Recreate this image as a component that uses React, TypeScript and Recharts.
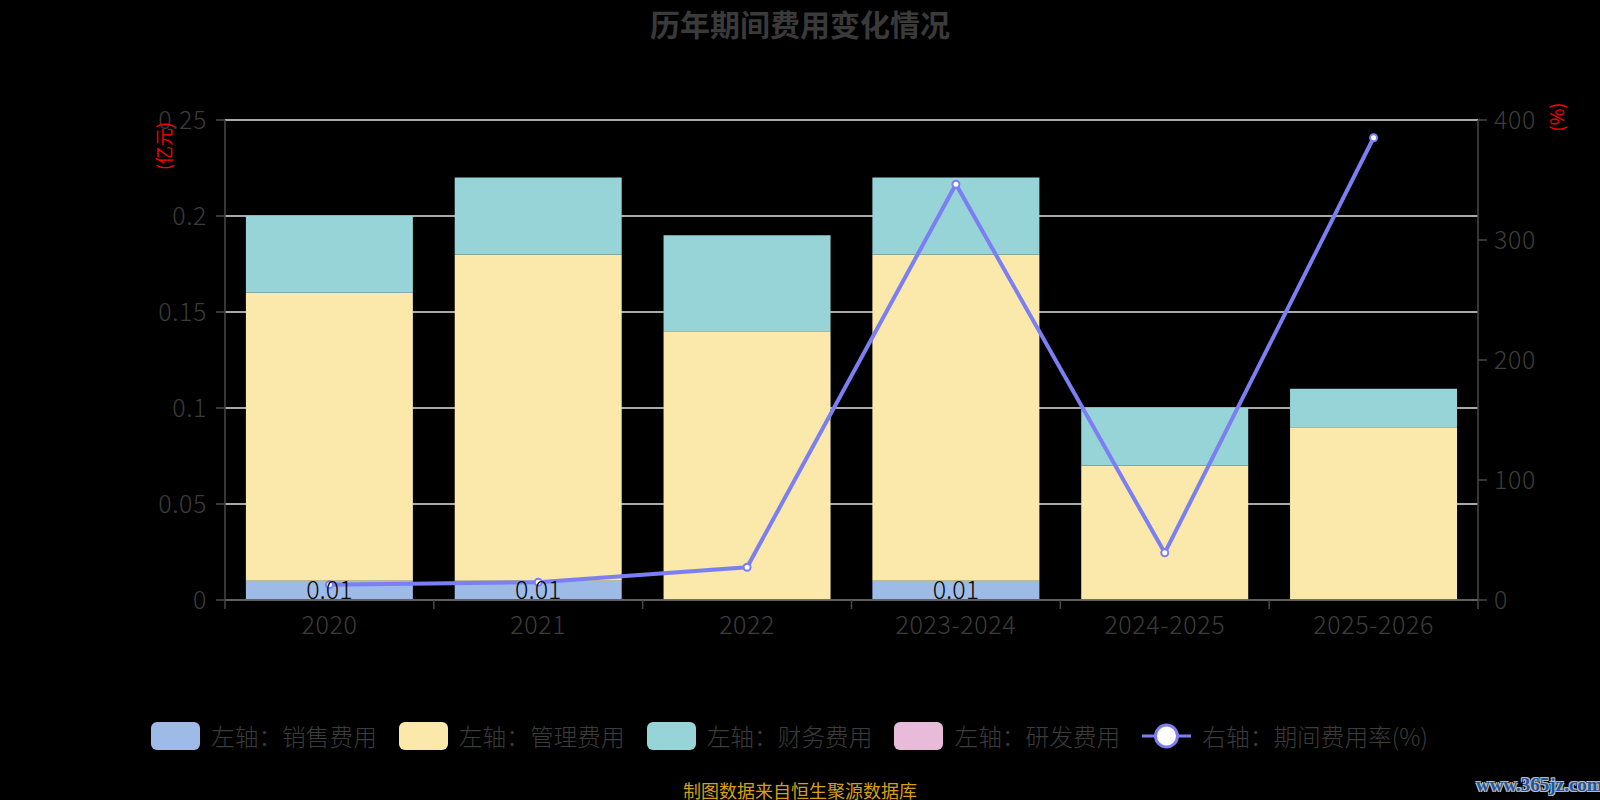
import React from 'react';
import { ComposedChart, Bar, Line, XAxis, YAxis, CartesianGrid, LabelList } from 'recharts';

const categories = ['2020', '2021', '2022', '2023-2024', '2024-2025', '2025-2026'];
const salesExpense = [0.01, 0.01, 0, 0.01, 0, 0];
const adminExpense = [0.15, 0.17, 0.14, 0.17, 0.07, 0.09];
const financeExpense = [0.04, 0.04, 0.05, 0.04, 0.03, 0.02];
const rdExpense = [0, 0, 0, 0, 0, 0];
const expenseRate = [12.7, 14.8, 27.3, 346.5, 39.3, 385.2];
const leftTicks = [0, 0.05, 0.1, 0.15, 0.2, 0.25];
const rightTicks = [0, 100, 200, 300, 400];

const seriesNames = ['左轴：销售费用', '左轴：管理费用', '左轴：财务费用', '左轴：研发费用', '右轴：期间费用率(%)'];
const seriesColors = ['#9dbbe6', '#fae9aa', '#97d4d7', '#e8bbdb', '#7b7ff3'];

const titleText = '历年期间费用变化情况';
const footerText = '制图数据来自恒生聚源数据库';
const watermarkText = 'www.365jz.com';
const leftUnit = '(亿元)';
const rightUnit = '(%)';

const data = categories.map((c, i) => ({
  name: c,
  sales: salesExpense[i],
  admin: adminExpense[i],
  finance: financeExpense[i],
  rd: rdExpense[i],
  rate: expenseRate[i],
}));

const W = 1600;
const H = 800;
const MARGIN = { top: 120, right: 62, bottom: 160, left: 165 };
const Y_W = 60;
const X_H = 40;
const PLOT_W = W - MARGIN.left - MARGIN.right - 2 * Y_W;
const HALF_BAND = PLOT_W / categories.length / 2;
const TICK_SIZE = 9;
const X_TICK_MARGIN = 6;
const AXIS = '#484848';
const TEXT = '#3c3c3c';
const FONT = '"Noto Sans CJK SC", "Noto Sans", sans-serif';
const TICK_FONT_SIZE = 25;
const TICK_SPACING = '0.6px';

const XTick = (props: any) => {
  const { x, y, payload, index } = props;
  const axisY = y - TICK_SIZE - X_TICK_MARGIN;
  return (
    <g>
      <line x1={x - HALF_BAND} x2={x - HALF_BAND} y1={axisY} y2={axisY + TICK_SIZE} stroke={AXIS} strokeWidth={1.5} />
      {index === categories.length - 1 && (
        <line x1={x + HALF_BAND} x2={x + HALF_BAND} y1={axisY} y2={axisY + TICK_SIZE} stroke={AXIS} strokeWidth={1.5} />
      )}
      <text
        x={x}
        y={y}
        dy="0.76em"
        textAnchor="middle"
        fill={TEXT}
        fontSize={TICK_FONT_SIZE}
        fontWeight={300}
        fontFamily={FONT}
        style={{ letterSpacing: TICK_SPACING }}
      >
        {payload.value}
      </text>
    </g>
  );
};

const LegendRow = () => (
  <div
    style={{
      position: 'absolute',
      left: 151,
      top: 722,
      height: 28,
      display: 'flex',
      alignItems: 'center',
      fontFamily: FONT,
      fontSize: 23.7,
      fontWeight: 300,
      color: TEXT,
      whiteSpace: 'nowrap',
    }}
  >
    {seriesNames.map((n, i) => (
      <div key={n} style={{ display: 'flex', alignItems: 'center', marginRight: 22 }}>
        {i < 4 ? (
          <div style={{ width: 49, height: 28, borderRadius: 6, background: seriesColors[i] }} />
        ) : (
          <svg width={49} height={28}>
            <line x1={0} x2={49} y1={14} y2={14} stroke={seriesColors[i]} strokeWidth={3} />
            <circle cx={24.5} cy={14} r={11} fill="#fff" stroke={seriesColors[i]} strokeWidth={3} />
          </svg>
        )}
        <span style={{ marginLeft: 11, lineHeight: '28px' }}>{n}</span>
      </div>
    ))}
  </div>
);

export default function App() {
  return (
    <div style={{ position: 'absolute', left: 0, top: 0, width: W, height: H, background: '#000', fontFamily: FONT }}>
      <div
        style={{
          position: 'absolute',
          left: 0,
          top: 0,
          width: W,
          height: 46,
          lineHeight: '46px',
          textAlign: 'center',
          fontSize: 30,
          fontWeight: 'bold',
          color: '#3a3a3a',
        }}
      >
        {titleText}
      </div>
      <ComposedChart width={W} height={H} data={data} margin={MARGIN} barCategoryGap="10%">
        <CartesianGrid yAxisId="left" vertical={false} stroke="#e2e2e2" strokeWidth={1.5} />
        <XAxis
          dataKey="name"
          height={X_H}
          axisLine={{ stroke: AXIS, strokeWidth: 1.5 }}
          tickLine={{ stroke: 'transparent' }}
          tickSize={TICK_SIZE}
          tickMargin={X_TICK_MARGIN}
          tick={<XTick />}
          interval={0}
        />
        <YAxis
          yAxisId="left"
          orientation="left"
          width={Y_W}
          domain={[0, 0.25]}
          ticks={leftTicks}
          axisLine={{ stroke: AXIS, strokeWidth: 1.5 }}
          tickLine={{ stroke: AXIS, strokeWidth: 1.5 }}
          tickSize={TICK_SIZE}
          tickMargin={9}
          tick={{ fill: TEXT, fontSize: TICK_FONT_SIZE, fontWeight: 300, fontFamily: FONT, style: { letterSpacing: TICK_SPACING } }}
        />
        <YAxis
          yAxisId="right"
          orientation="right"
          width={Y_W}
          domain={[0, 400]}
          ticks={rightTicks}
          axisLine={{ stroke: AXIS, strokeWidth: 1.5 }}
          tickLine={{ stroke: AXIS, strokeWidth: 1.5 }}
          tickSize={TICK_SIZE}
          tickMargin={7}
          tick={{ fill: TEXT, fontSize: TICK_FONT_SIZE, fontWeight: 300, fontFamily: FONT, style: { letterSpacing: TICK_SPACING } }}
        />
        <Bar yAxisId="left" dataKey="sales" stackId="a" fill={seriesColors[0]} isAnimationActive={false}>
          <LabelList
            dataKey="sales"
            position="center"
            fill="#0a0a0a"
            fontSize={TICK_FONT_SIZE}
            fontWeight={300}
            fontFamily={FONT}
            formatter={(v: any) => (v ? String(v) : '')}
          />
        </Bar>
        <Bar yAxisId="left" dataKey="admin" stackId="a" fill={seriesColors[1]} isAnimationActive={false} />
        <Bar yAxisId="left" dataKey="finance" stackId="a" fill={seriesColors[2]} isAnimationActive={false} />
        <Bar yAxisId="left" dataKey="rd" stackId="a" fill={seriesColors[3]} isAnimationActive={false} />
        <Line
          yAxisId="right"
          dataKey="rate"
          stroke={seriesColors[4]}
          strokeWidth={4}
          dot={{ r: 3.5, fill: '#fff', stroke: seriesColors[4], strokeWidth: 2 }}
          activeDot={false}
          isAnimationActive={false}
        />
      </ComposedChart>
      <div
        style={{
          position: 'absolute',
          left: 163,
          top: 146,
          transform: 'translate(-50%, -50%) rotate(-90deg)',
          color: '#f00',
          fontSize: 18,
          whiteSpace: 'nowrap',
          lineHeight: '20px',
        }}
      >
        {leftUnit}
      </div>
      <div
        style={{
          position: 'absolute',
          left: 1556,
          top: 117,
          transform: 'translate(-50%, -50%) rotate(-90deg)',
          color: '#f00',
          fontSize: 18,
          whiteSpace: 'nowrap',
          lineHeight: '20px',
        }}
      >
        {rightUnit}
      </div>
      <LegendRow />
      <div
        style={{
          position: 'absolute',
          left: 0,
          top: 779,
          width: W,
          textAlign: 'center',
          fontSize: 18,
          lineHeight: '22px',
          color: '#d4a017',
        }}
      >
        {footerText}
      </div>
      <div
        style={{
          position: 'absolute',
          left: 1476,
          top: 775,
          fontFamily: '"Liberation Serif", serif',
          fontWeight: 'bold',
          fontSize: 19,
          lineHeight: '20px',
          color: '#22549f',
          textShadow: '1px 1px 0 #bbb, -1px -1px 0 #bbb, 1px -1px 0 #bbb, -1px 1px 0 #bbb',
          whiteSpace: 'nowrap',
        }}
      >
        {watermarkText}
      </div>
    </div>
  );
}
